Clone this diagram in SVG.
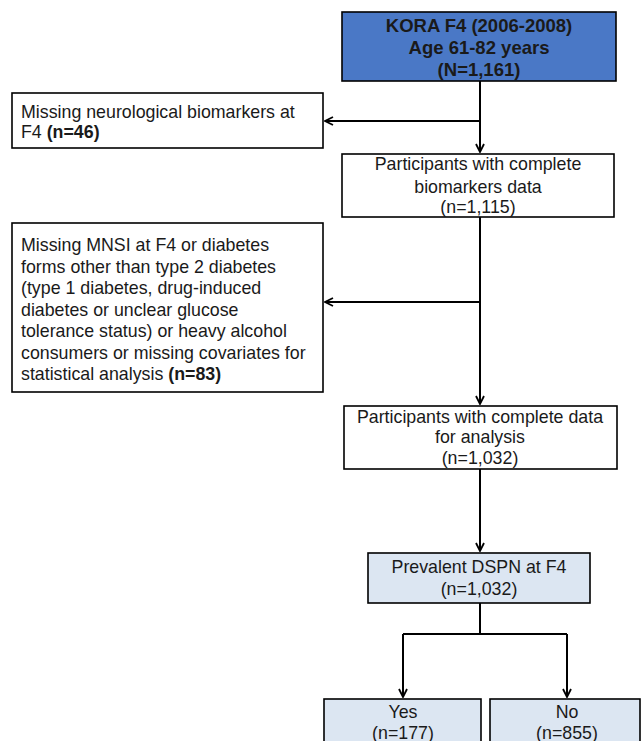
<svg xmlns="http://www.w3.org/2000/svg" width="642" height="741" viewBox="0 0 642 741">
<defs>
<marker id="arr" viewBox="0 0 10 10" refX="9" refY="5" markerWidth="10" markerHeight="10" markerUnits="userSpaceOnUse" orient="auto">
<path d="M1,1 L9,5 L1,9" fill="none" stroke="#000" stroke-width="1.8"/>
</marker>
</defs>
<style>
.box{stroke:#000;stroke-width:1.6}
.w{fill:#fff}
.dk{fill:#4a78c6}
.lt{fill:#dce6f2}
text{font-family:"Liberation Sans",Arial,sans-serif;font-size:17.8px;fill:#1a1a1a}
.c{text-anchor:middle}
.b{font-weight:bold}
.t{font-size:18.5px}
.ln{fill:none;stroke:#000;stroke-width:2}
</style>
<rect width="642" height="741" fill="#fff"/>
<g id="connectors">
<path class="ln" d="M480,81 V152" marker-end="url(#arr)"/>
<path class="ln" d="M480,121 H325" marker-end="url(#arr)"/>
<path class="ln" d="M480,217 V404" marker-end="url(#arr)"/>
<path class="ln" d="M480,302 H325" marker-end="url(#arr)"/>
<path class="ln" d="M480,469 V551" marker-end="url(#arr)"/>
<path class="ln" d="M480,603 V634"/>
<path class="ln" d="M403,634 H567"/>
<path class="ln" d="M403,634 V697" marker-end="url(#arr)"/>
<path class="ln" d="M567,634 V697" marker-end="url(#arr)"/>
</g>
<g id="kora">
<rect class="box dk" x="342" y="12" width="274" height="69"/>
<text class="c b t" x="479" y="32">KORA F4 (2006-2008)</text>
<text class="c b t" x="479" y="54">Age 61-82 years</text>
<text class="c b t" x="479" y="76">(N=1,161)</text>
</g>
<g id="missing1">
<rect class="box w" x="12" y="93" width="311" height="55"/>
<text x="21" y="118">Missing neurological biomarkers at</text>
<text x="21" y="138">F4 <tspan class="b">(n=46)</tspan></text>
</g>
<g id="complete-biomarkers">
<rect class="box w" x="342" y="154" width="272" height="63"/>
<text class="c" x="478" y="170">Participants with complete</text>
<text class="c" x="478" y="193">biomarkers data</text>
<text class="c" x="478" y="213">(n=1,115)</text>
</g>
<g id="missing2">
<rect class="box w" x="12" y="223" width="311" height="169"/>
<text x="21" y="251">Missing MNSI at F4 or diabetes</text>
<text x="21" y="272.5">forms other than type 2 diabetes</text>
<text x="21" y="294">(type 1 diabetes, drug-induced</text>
<text x="21" y="315.5">diabetes or unclear glucose</text>
<text x="21" y="337">tolerance status) or heavy alcohol</text>
<text x="21" y="358.5">consumers or missing covariates for</text>
<text x="21" y="380">statistical analysis <tspan class="b">(n=83)</tspan></text>
</g>
<g id="complete-analysis">
<rect class="box w" x="344" y="406" width="273" height="63"/>
<text class="c" x="480" y="423">Participants with complete data</text>
<text class="c" x="480" y="443">for analysis</text>
<text class="c" x="480" y="464">(n=1,032)</text>
</g>
<g id="dspn">
<rect class="box lt" x="368" y="553" width="222" height="50"/>
<text class="c" x="479" y="573">Prevalent DSPN at F4</text>
<text class="c" x="479" y="595">(n=1,032)</text>
</g>
<g id="yes">
<rect class="box lt" x="324" y="699" width="157" height="60"/>
<text class="c" x="403" y="718">Yes</text>
<text class="c" x="403" y="739">(n=177)</text>
</g>
<g id="no">
<rect class="box lt" x="490" y="699" width="150" height="60"/>
<text class="c" x="567" y="718">No</text>
<text class="c" x="567" y="739">(n=855)</text>
</g>
</svg>
